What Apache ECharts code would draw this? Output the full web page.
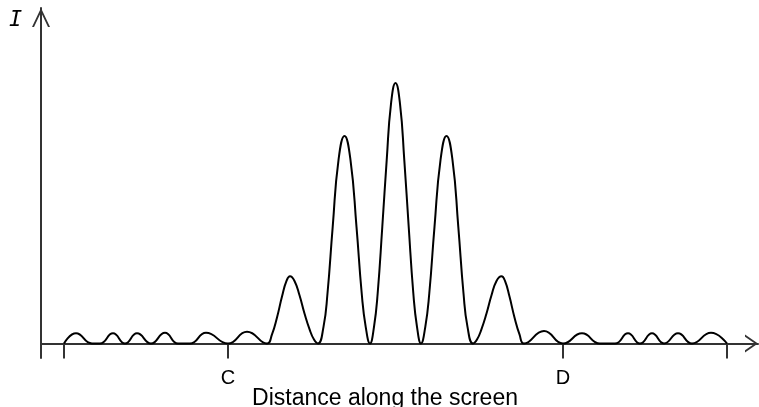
<!DOCTYPE html>
<html>
<head>
<meta charset="utf-8">
<script src="https://cdn.jsdelivr.net/npm/echarts@6/dist/echarts.min.js"></script>
<style>
  html, body { margin: 0; padding: 0; background: #fff; }
  #chart { width: 759px; height: 407px; }
</style>
</head>
<body>
<div id="chart"></div>
<script>
// distance along the screen (arbitrary units, 0 = centre), intensity (central max = 100)
let leftRipples = [
    [-33.15, 0], [-31.95, 3.9], [-30.35, 0], [-29.55, 0], [-28.25, 3.9], [-27.05, 0],
    [-25.85, 3.9], [-24.45, 0], [-23.05, 4.1], [-21.75, 0], [-20.55, 0], [-18.95, 4.1],
    [-16.75, 0], [-14.85, 4.5], [-12.85, 0]
]
let brightFringes = [
    [-12.35, 3.5], [-11.85, 10], [-11.35, 18], [-10.9, 24], [-10.55, 25.8], [-10.1, 24],
    [-9.6, 18.5], [-9.1, 11.5], [-8.6, 5.5], [-8.15, 1.5], [-7.75, 0],
    [-7.2, 6.4], [-6.8, 19.3], [-6.28, 44.8], [-5.7, 70.4], [-5.1, 79.7], [-4.5, 70.4],
    [-3.9, 44.8], [-3.38, 19.3], [-2.98, 6.4], [-2.55, 0],
    [-2.15, 6.4], [-1.78, 19.4], [-1.32, 44.8], [-0.88, 70.4], [-0.45, 92], [0, 100],
    [0.45, 92], [0.88, 70.4], [1.32, 44.8], [1.78, 19.4], [2.15, 6.4], [2.55, 0],
    [2.98, 6.4], [3.38, 19.3], [3.9, 44.8], [4.5, 70.4], [5.1, 79.7], [5.7, 70.4],
    [6.28, 44.8], [6.8, 19.3], [7.2, 6.4], [7.75, 0],
    [8.15, 1.5], [8.6, 5.5], [9.1, 11.5], [9.6, 18.5], [10.1, 24], [10.6, 25.8],
    [10.95, 24], [11.4, 18], [11.9, 10], [12.4, 3.5], [12.85, 0]
]
let rightRipples = [
    [14.85, 4.8], [16.75, 0], [18.65, 3.9], [20.45, 0], [21.95, 0], [23.25, 3.9],
    [24.45, 0], [25.65, 3.9], [26.85, 0], [28.25, 3.9], [29.65, 0], [31.55, 4.1], [33.15, 0]
]
let tickValues = [-33.15, -16.75, 16.75, 33.15]
let labelValues = [-16.75, 16.75]
let tickLabels = ['C', 'D']

// open chevron arrow heads
let arrowUp = 'path://M0,190 L90,0 L180,190 L160,190 L90,42 L20,190 Z'
let arrowSide = 'path://M0,130 L90,0 L180,130 L158,130 L90,32 L22,130 Z'
let axisColor = '#333'

let chart = echarts.init(document.getElementById('chart'))
let option = {
    animation: false,
    title: {
        text: 'I',
        left: 9,
        top: 9,
        padding: 0,
        textStyle: {
            fontFamily: 'DejaVu Sans Mono',
            fontStyle: 'italic',
            fontWeight: 'normal',
            fontSize: 22,
            color: '#000'
        }
    },
    grid: {
        left: 41,
        right: 1,
        top: 8,
        bottom: 49,
        outerBoundsMode: 'none'
    },
    xAxis: {
        type: 'value',
        min: -35.45,
        max: 36.25,
        splitLine: { show: false },
        axisLine: {
            onZero: true,
            symbol: ['none', arrowSide],
            symbolSize: [18, 13],
            symbolOffset: [0, -6.5],
            lineStyle: { color: axisColor, width: 2 }
        },
        axisTick: {
            customValues: tickValues,
            length: 15,
            lineStyle: { color: axisColor, width: 2 }
        },
        axisLabel: {
            customValues: labelValues,
            margin: 10,
            fontFamily: 'Liberation Sans',
            fontSize: 20,
            color: '#000',
            formatter: (v) => {
                let idx = 0
                labelValues.forEach((lv, i) => {
                    if (Math.abs(lv - v) < Math.abs(labelValues[idx] - v)) idx = i
                })
                return tickLabels[idx]
            }
        },
        name: 'Distance along the screen',
        nameLocation: 'middle',
        nameGap: 29,
        nameMoveOverlap: false,
        nameTextStyle: {
            fontFamily: 'Liberation Sans',
            fontSize: 23,
            color: '#000',
            padding: [0, 29, 0, 0]
        }
    },
    yAxis: {
        type: 'value',
        min: -5.57,
        max: 128.8,
        splitLine: { show: false },
        axisTick: { show: false },
        axisLabel: { show: false },
        axisLine: {
            onZero: false,
            symbol: ['none', arrowUp],
            symbolSize: [18, 19],
            symbolOffset: [0, -9.5],
            lineStyle: { color: axisColor, width: 2 }
        }
    },
    series: [{
        type: 'line',
        data: leftRipples.concat(brightFringes, rightRipples),
        smooth: 0.5,
        showSymbol: false,
        lineStyle: { color: '#000', width: 2 }
    }]
}
chart.setOption(option)
</script>
</body>
</html>
